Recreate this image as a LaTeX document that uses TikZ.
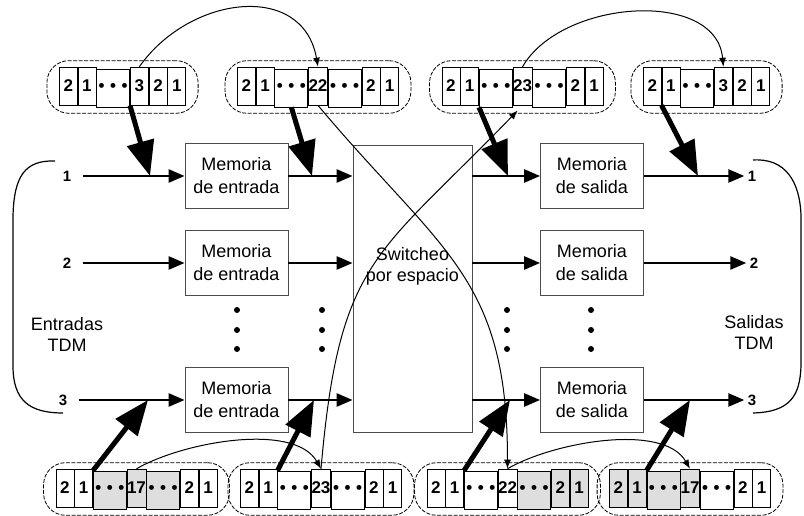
\documentclass[tikz,border=0pt]{standalone}
\usepackage{fontspec}
\setmainfont{Liberation Sans}
\usetikzlibrary{arrows.meta,matrix}

% three bullets spread over a slot
\newcommand\slotdots{\hbox to 29pt{\textbullet\hfil\textbullet\hfil\textbullet}}

\begin{document}
\begin{tikzpicture}[x=1pt,y=1pt,
 mem/.style={draw=black!70,line width=0.8pt,minimum width=103pt,minimum height=65pt,align=center,font=\fontsize{18}{23}\selectfont},
 num/.style={font=\fontsize{15}{15}\selectfont\bfseries},
 txt/.style={align=center,font=\fontsize{18}{21}\selectfont},
 cl/.style={draw,solid,sharp corners,line width=0.7pt,minimum width=18pt,minimum height=38pt,inner sep=0pt,font=\fontsize{17}{17}\selectfont\bfseries},
 dd/.style={minimum width=33pt},
 sh/.style={fill=black!13},
 fr/.style={matrix of nodes,draw,dash pattern=on 4pt off 1.5pt,line width=0.8pt,rounded corners=22pt,inner xsep=12pt,inner ysep=6pt,column sep=0pt,nodes={cl}},
 ha/.style={line width=2.6pt,-{Triangle[length=16pt,width=13pt]}},
 ta/.style={line width=5pt,-{Triangle[length=35pt,width=27pt]}},
 tl/.style={line width=1pt,-{Latex[length=9pt,width=7pt]}}]
 \useasboundingbox (0,0) rectangle (804,516);

 % trames TDM
 \matrix[fr] (fa) at (122.5,429) {2 & 1 & |[dd]| \slotdots & 3 & 2 & 1\\};
 \matrix[fr] (fb) at (318,429) {2 & 1 & |[dd]| \slotdots & 22 & |[dd]| \slotdots & 2 & 1\\};
 \matrix[fr] (fc) at (522.5,429) {2 & 1 & |[dd]| \slotdots & 23 & |[dd]| \slotdots & 2 & 1\\};
 \matrix[fr] (fd) at (706.5,429) {2 & 1 & |[dd]| \slotdots & 3 & 2 & 1\\};
 \matrix[fr] (fe) at (136.5,27) {2 & 1 & |[dd,sh]| \slotdots & |[sh]| 17 & |[dd,sh]| \slotdots & 2 & 1\\};
 \matrix[fr] (ff) at (321,27) {2 & 1 & |[dd]| \slotdots & 23 & |[dd]| \slotdots & 2 & 1\\};
 \matrix[fr] (fg) at (507.5,27) {2 & 1 & |[dd]| \slotdots & 22 & |[dd,sh]| \slotdots & |[sh]| 2 & |[sh]| 1\\};
 \matrix[fr] (fh) at (690,27) {|[sh]| 2 & |[sh]| 1 & |[dd,sh]| \slotdots & |[sh]| 17 & |[dd]| \slotdots & 2 & 1\\};

 % memorias y switch
 \node[mem] (me1) at (236.5,340) {Memoria\\de entrada};
 \node[mem] (me2) at (236.5,253) {Memoria\\de entrada};
 \node[mem] (me3) at (236.5,116) {Memoria\\de entrada};
 \node[mem,minimum width=119pt,minimum height=287pt] (sw) at (412.5,227.5) {};
 \node[txt] (swl) at (412.5,250) {Switcheo\\por espacio};
 \node[mem] (ms1) at (592,340) {Memoria\\de salida};
 \node[mem] (ms2) at (592,253) {Memoria\\de salida};
 \node[mem] (ms3) at (592,116) {Memoria\\de salida};

 \node[num] (i1) at (67,340) {1};
 \node[num] (i2) at (67,253) {2};
 \node[num] (i3) at (63,116) {3};
 \node[num] (o1) at (752,340) {1};
 \node[num] (o2) at (754,253) {2};
 \node[num] (o3) at (752,116) {3};
 \node[txt] (ent) at (67,182) {Entradas\\TDM};
 \node[txt] (sal) at (754,184) {Salidas\\TDM};

 \draw[line width=1.2pt] (55,355) .. controls (25,356) and (14,340) .. (13,300) -- (13,150) .. controls (13,115) and (30,103) .. (63,103);
 \draw[line width=1.2pt] (753,356) .. controls (785,358) and (800,335) .. (801,300) -- (801,150) .. controls (800,120) and (790,104) .. (753,103);

 \foreach \x in {237,322,507,591}
  \foreach \y in {206,186,167} \fill (\x,\y) circle (3pt);

 % lineas de entrada y salida
 \draw[ha,shorten <=8pt] (i1) -- (me1); \draw[ha,shorten <=8pt] (i2) -- (me2); \draw[ha,shorten <=8pt] (i3) -- (me3);
 \draw[ha] (me1) -- (me1 -| sw.west); \draw[ha] (me2) -- (me2 -| sw.west); \draw[ha] (me3) -- (me3 -| sw.west);
 \draw[ha] (ms1 -| sw.east) -- (ms1); \draw[ha] (ms2 -| sw.east) -- (ms2); \draw[ha] (ms3 -| sw.east) -- (ms3);
 \draw[ha] (ms1) -- (o1); \draw[ha] (ms2) -- (o2); \draw[ha] (ms3) -- (o3);

 % intercambio de ranuras
 \draw[tl] (fa-1-4.north) to[out=55,in=100,looseness=1.25] (fb-1-4.north);
 \draw[tl] (fc-1-4.north) to[out=60,in=95] (fd-1-4.north);
 \draw[tl] (fe-1-4.north) to[out=30,in=120,looseness=0.75] (ff-1-4.north);
 \draw[tl] (fg-1-4.north) to[out=30,in=120,looseness=0.75] (fh-1-4.north);
 \draw[tl] (fb-1-4.south) to[out=-50,in=90,looseness=1.2] (fg-1-4.north);
 \draw[tl,shorten >=7pt] (ff-1-4.north) to[out=85,in=-134,looseness=1.3] (fc-1-4.south);

 % flechas gruesas
 \coordinate (a1) at (150,340); \coordinate (a2) at (312,340);
 \coordinate (a3) at (508,340); \coordinate (a4) at (698,340);
 \coordinate (b1) at (148,116); \coordinate (b2) at (314,116);
 \coordinate (b3) at (510,116); \coordinate (b4) at (690,116);
 \draw[ta] (fa-1-4.south west) -- (a1);
 \draw[ta] (fb-1-3.south) -- (a2);
 \draw[ta] (fc-1-3.south west) -- (a3);
 \draw[ta] (fd-1-2.south west) -- (a4);
 \draw[ta] (fe-1-3.north west) -- (b1);
 \draw[ta] (ff-1-3.north west) -- (b2);
 \draw[ta] (fg-1-3.north west) -- (b3);
 \draw[ta] (fh-1-3.north west) -- (b4);
\end{tikzpicture}
\end{document}
